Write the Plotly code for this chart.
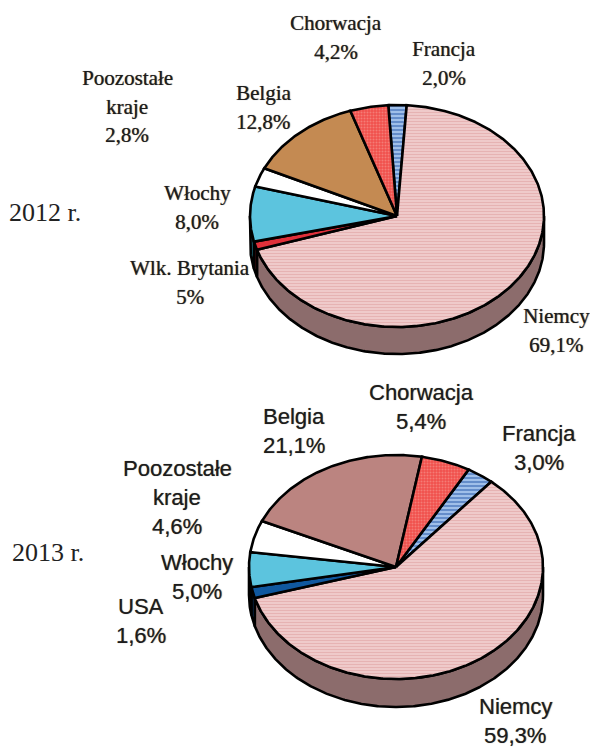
import numpy as np
import plotly.graph_objects as go

# ---- data (clockwise, beginning with Francja) ----
countries_2012 = ["Francja", "Niemcy", "Wlk. Brytania", "Włochy", "Poozostałe kraje", "Belgia", "Chorwacja"]
values_2012 = [2.0, 69.1, 1.2, 8.0, 2.8, 12.8, 4.2]
shown_2012 = ["2,0%", "69,1%", "5%", "8,0%", "2,8%", "12,8%", "4,2%"]

countries_2013 = ["Francja", "Niemcy", "USA", "Włochy", "Poozostałe kraje", "Belgia", "Chorwacja"]
values_2013 = [3.0, 59.3, 1.6, 5.0, 4.6, 21.1, 5.4]
shown_2013 = ["3,0%", "59,3%", "1,6%", "5,0%", "4,6%", "21,1%", "5,4%"]

# ---- styling / layout ----
PINK = dict(fill="#efc4c4", pattern=dict(shape="-", fgcolor="#dc9a9a", bgcolor="#f0cccc", size=3, solidity=0.4), side="#8c6c6c")
BLUE = dict(fill="#7fa6dc", pattern=dict(shape="-", fgcolor="#2a5cab", bgcolor="#9fbfe9", size=4, solidity=0.5), side="#2f5f9e")
RED = dict(fill="#f26a64", pattern=dict(shape=".", fgcolor="#f7a8a0", bgcolor="#f0504c", size=3, solidity=0.35), side="#a33")
WHITE = dict(fill="#ffffff", side="#999999")
TEAL = dict(fill="#5cc4de", side="#1f6f80")
SCARLET = dict(fill="#e0303a", side="#801820")
NAVY = dict(fill="#10589f", side="#0a3560")
TAN = dict(fill="#c48a52", side="#7a5530")
ROSE = dict(fill="#bb8480", side="#7a5550")

styles_2012 = [BLUE, PINK, SCARLET, TEAL, WHITE, TAN, RED]
styles_2013 = [BLUE, PINK, NAVY, TEAL, WHITE, ROSE, RED]

EDGE = dict(color="#000000", width=2.6)


def arc(cx, cy, rx, ry, a0, a1):
    """Points on the ellipse, angles in degrees clockwise from 12 o'clock."""
    n = max(int(abs(a1 - a0)) * 2, 2)
    t = np.radians(np.linspace(a0, a1, n))
    return cx + rx * np.sin(t), cy - ry * np.cos(t)


def add_pie(fig, values, styles, cx, cy, rx, ry, depth, start):
    spans = np.array(values, dtype=float) / sum(values) * 360.0
    edges = start + np.concatenate([[0], np.cumsum(spans)])
    # side wall: only the front half (90..270 deg) is visible
    for i, st in enumerate(styles):
        a0, a1 = max(edges[i], 90), min(edges[i + 1], 270)
        if a1 <= a0:
            continue
        xt, yt = arc(cx, cy, rx, ry, a0, a1)
        xb, yb = arc(cx, cy + depth, rx, ry, a1, a0)
        fig.add_trace(go.Scatter(x=np.r_[xt, xb, xt[0]], y=np.r_[yt, yb, yt[0]], mode="lines", fill="toself",
                                 fillcolor=st["side"], line=EDGE, hoverinfo="skip", showlegend=False))
    # top face
    for i, st in enumerate(styles):
        xa, ya = arc(cx, cy, rx, ry, edges[i], edges[i + 1])
        kw = dict(fillpattern=st["pattern"]) if "pattern" in st else {}
        fig.add_trace(go.Scatter(x=np.r_[cx, xa, cx], y=np.r_[cy, ya, cy], mode="lines", fill="toself",
                                 fillcolor=st["fill"], line=EDGE, hoverinfo="skip", showlegend=False, **kw))


fig = go.Figure()
add_pie(fig, values_2012, styles_2012, 397, 216, 147, 111, 27, -3.4)
add_pie(fig, values_2013, styles_2013, 396, 567, 147, 112, 28, 29.6)

SERIF = dict(family="Liberation Serif", size=21, color="#1c1c1c", shadow="0.4px 0 0.7px #555")
SANS = dict(family="Liberation Sans", size=22, color="#1c1c1c", shadow="0.3px 0 0.8px #666")


def add_labels(names, shown, anchors, font, step):
    for name, pct, (x, y) in zip(names, shown, anchors):
        lines = (["Poozostałe", "kraje"] if name.startswith("Poozostałe") else [name]) + [pct]
        for j, line in enumerate(lines):
            fig.add_annotation(x=x, y=y + j * step, text=line, showarrow=False, xanchor="center", yanchor="middle",
                               font=font)


anchors_2012 = [(444, 49), (556, 316), (190, 268), (197, 193), (127, 78), (263, 93), (336, 23)]
anchors_2013 = [(539, 433), (515, 706), (141, 606), (197, 562), (177, 468), (294, 416), (421, 392)]
add_labels(countries_2012, shown_2012, anchors_2012, SERIF, 28.5)
add_labels(countries_2013, shown_2013, anchors_2013, SANS, 29)

for txt, x, y in [("2012 r.", 45, 212), ("2013 r.", 48, 552)]:
    fig.add_annotation(x=x, y=y, text=txt, showarrow=False, xanchor="center", yanchor="middle",
                       font=dict(family="Liberation Serif", size=26, color="#222222"))

fig.update_layout(width=590, height=749, margin=dict(l=0, r=0, t=0, b=0), paper_bgcolor="white", plot_bgcolor="white",
                  showlegend=False, autosize=False)
fig.update_xaxes(range=[0, 590], visible=False, fixedrange=True)
fig.update_yaxes(range=[749, 0], visible=False, fixedrange=True)
fig.write_html("out.html", config=dict(displayModeBar=False),
               post_script="document.body.style.margin='0';document.documentElement.style.overflow='hidden';")
